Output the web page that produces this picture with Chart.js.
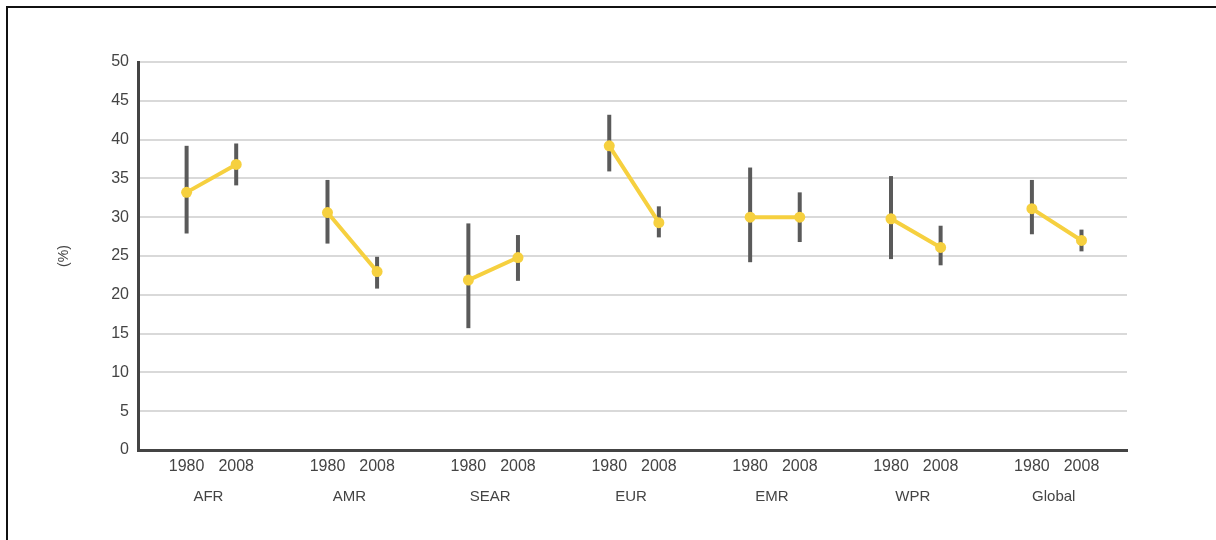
<!DOCTYPE html>
<html>
<head>
<meta charset="utf-8">
<script src="https://cdn.jsdelivr.net/npm/chart.js@4.4.1/dist/chart.umd.min.js"></script>
<style>
  html, body { margin: 0; padding: 0; background: #fff; }
  #wrap { position: relative; width: 1216px; height: 540px; overflow: hidden; }
  #frame { position: absolute; left: 6px; top: 6px; width: 1300px; height: 600px;
           border-top: 2px solid #111; border-left: 2px solid #111; pointer-events: none; }
  canvas { position: absolute; left: 0; top: 0; }
</style>
</head>
<body>
<div id="wrap">
  <canvas id="c" width="1216" height="540"></canvas>
  <div id="frame"></div>
</div>
<script>
// ---- data ----
const regions = ['AFR', 'AMR', 'SEAR', 'EUR', 'EMR', 'WPR', 'Global'];
const years = ['1980', '2008'];
const val1980 = [33.2, 30.6, 21.9, 39.2, 30.0, 29.8, 31.1];
const val2008 = [36.8, 23.0, 24.8, 29.3, 30.0, 26.1, 27.0];
const low1980 = [27.9, 26.6, 15.7, 35.9, 24.2, 24.6, 27.8];
const high1980 = [39.2, 34.8, 29.2, 43.2, 36.4, 35.3, 34.8];
const low2008 = [34.1, 20.8, 21.8, 27.4, 26.8, 23.8, 25.6];
const high2008 = [39.5, 24.9, 27.7, 31.4, 33.2, 28.9, 28.4];
const yTicks = [0, 5, 10, 15, 20, 25, 30, 35, 40, 45, 50];

// ---- layout helpers (positions within each region band) ----
const OFF = [0.345, 0.697];
const XMAX = 7.02;
const points = [];
const bars = [];
const yearTickPos = [];
regions.forEach((r, i) => {
  const v = [val1980[i], val2008[i]];
  const lo = [low1980[i], low2008[i]];
  const hi = [high1980[i], high2008[i]];
  for (let k = 0; k < 2; k++) {
    points.push({ x: i + OFF[k], y: v[k] });
    bars.push({ x: i + OFF[k], lo: lo[k], hi: hi[k] });
    yearTickPos.push(i + OFF[k]);
  }
  points.push({ x: i + 0.85, y: null });
});

const FONT = "'Liberation Sans', Arial, sans-serif";
const TXT = '#444';
const YEL = '#F6D03F';

const errorBars = {
  id: 'errorBars',
  beforeDatasetsDraw(chart) {
    const { ctx, scales } = chart;
    const xs = scales.x, ys = scales.y;
    ctx.save();
    ctx.strokeStyle = '#5a5a5a';
    ctx.lineWidth = 4;
    ctx.lineCap = 'butt';
    bars.forEach(b => {
      const px = xs.getPixelForValue(b.x);
      ctx.beginPath();
      ctx.moveTo(px, ys.getPixelForValue(b.hi));
      ctx.lineTo(px, ys.getPixelForValue(b.lo));
      ctx.stroke();
    });
    ctx.restore();
  }
};

new Chart(document.getElementById('c'), {
  type: 'line',
  data: {
    datasets: [{
      data: points,
      borderColor: YEL,
      backgroundColor: YEL,
      borderWidth: 4,
      pointRadius: 5.5,
      pointBorderWidth: 0,
      pointBackgroundColor: YEL,
      spanGaps: false,
      tension: 0
    }]
  },
  options: {
    responsive: false,
    animation: false,
    devicePixelRatio: 1,
    layout: { padding: { left: 0, top: 62, right: 89, bottom: 30 } },
    plugins: { legend: { display: false }, tooltip: { enabled: false } },
    scales: {
      y: {
        type: 'linear',
        min: 0, max: 50,
        afterBuildTicks: s => { s.ticks = yTicks.map(v => ({ value: v })); },
        afterFit: s => { s.width = 138; },
        grid: { color: '#d9d9d9', lineWidth: 2, drawTicks: false },
        border: { color: '#444', width: 3 },
        ticks: { color: TXT, font: { family: FONT, size: 16 }, padding: 9 },
        title: { display: true, text: '(%)', color: TXT, font: { family: FONT, size: 14 }, padding: { top: 56, bottom: 0 } }
      },
      x: {
        type: 'linear',
        position: 'bottom',
        weight: 0,
        min: 0, max: XMAX,
        afterBuildTicks: s => { s.ticks = yearTickPos.map(v => ({ value: v })); },
        afterFit: s => { s.height = 30; },
        grid: { display: false, drawTicks: false },
        border: { color: '#444', width: 3 },
        ticks: {
          color: TXT, font: { family: FONT, size: 16 }, padding: 7,
          autoSkip: false, maxRotation: 0, minRotation: 0,
          callback: (v, i) => years[i % 2]
        }
      },
      xr: {
        type: 'linear',
        position: 'bottom',
        weight: 1,
        min: 0, max: XMAX,
        afterBuildTicks: s => { s.ticks = regions.map((r, i) => ({ value: i + 0.5 })); },
        afterFit: s => { s.height = 30; },
        grid: { display: false, drawTicks: false },
        border: { display: false },
        ticks: {
          color: TXT, font: { family: FONT, size: 15 }, padding: 8,
          autoSkip: false, maxRotation: 0, minRotation: 0,
          callback: (v, i) => regions[i]
        }
      }
    }
  },
  plugins: [errorBars]
});
</script>
</body>
</html>
